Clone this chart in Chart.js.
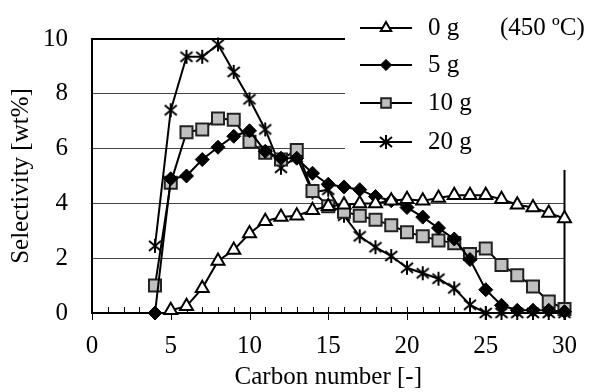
<!DOCTYPE html>
<html>
<head>
<meta charset="utf-8">
<script src="https://cdn.jsdelivr.net/npm/chart.js@4.4.1/dist/chart.umd.min.js"></script>
<style>
  html, body { margin: 0; padding: 0; background: #fff; }
  #wrap { width: 595px; height: 392px; position: relative; }
</style>
</head>
<body>
<div id="wrap"><canvas id="chart"></canvas></div>
<script>
// carbon numbers C4..C30
const carbon = [4, 5, 6, 7, 8, 9, 10, 11, 12, 13, 14, 15, 16, 17, 18, 19, 20, 21, 22, 23, 24, 25, 26, 27, 28, 29, 30];
const seriesNames = ['0 g', '5 g', '10 g', '20 g'];
const sel0g = [null, 0.1, 0.25, 0.9, 1.9, 2.3, 2.9, 3.35, 3.5, 3.55, 3.75, 3.9, 3.95, 4.0, 4.0, 4.1, 4.15, 4.1, 4.2, 4.3, 4.3, 4.3, 4.15, 3.95, 3.85, 3.65, 3.45];
const sel5g = [0, 4.9, 5.0, 5.6, 6.05, 6.45, 6.65, 5.9, 5.65, 5.65, 5.1, 4.7, 4.6, 4.5, 4.25, 4.1, 3.85, 3.5, 3.1, 2.7, 1.95, 0.85, 0.28, 0.1, 0.1, 0.1, 0.05];
const sel10g = [1.0, 4.75, 6.6, 6.7, 7.1, 7.05, 6.25, 5.85, 5.6, 5.95, 4.45, 3.9, 3.7, 3.55, 3.4, 3.2, 2.95, 2.8, 2.65, 2.55, 2.15, 2.35, 1.75, 1.38, 0.97, 0.42, 0.15];
const sel20g = [2.45, 7.4, 9.35, 9.35, 9.8, 8.8, 7.8, 6.7, 5.3, 5.7, 4.4, 4.5, 3.55, 2.8, 2.4, 2.08, 1.65, 1.45, 1.25, 0.9, 0.3, 0, 0, 0, 0, 0, 0];
const xTicks = [0, 5, 10, 15, 20, 25, 30];
const yTicks = [0, 2, 4, 6, 8, 10];
const tempNote = '(450 \u00BAC)';

const serif = "'Liberation Serif', 'Times New Roman', serif";
Chart.defaults.font.family = serif;
Chart.defaults.font.size = 25;
Chart.defaults.color = '#000';

// asterisk marker (X plus vertical bar)
function makeStar() {
    const c = document.createElement('canvas');
    c.width = 16; c.height = 16;
    const g = c.getContext('2d');
    g.strokeStyle = '#000';
    g.lineWidth = 2;
    g.beginPath();
    g.moveTo(8, 1); g.lineTo(8, 15);
    g.moveTo(2, 3); g.lineTo(14, 13);
    g.moveTo(2, 13); g.lineTo(14, 3);
    g.stroke();
    return c;
}
const star = makeStar();

function pts(vals) {
    return carbon.map((c, i) => ({ x: c, y: vals[i] }));
}

const datasets = [
    { label: seriesNames[0], data: pts(sel0g), pointStyle: 'triangle', pointRadius: 7.5,
      pointBackgroundColor: '#fff', pointBorderColor: '#000', pointBorderWidth: 2 },
    { label: seriesNames[1], data: pts(sel5g), pointStyle: 'rectRot', pointRadius: 7,
      pointBackgroundColor: '#000', pointBorderColor: '#000', pointBorderWidth: 1 },
    { label: seriesNames[2], data: pts(sel10g), pointStyle: 'rect', pointRadius: 8.5,
      pointBackgroundColor: '#c0c0c0', pointBorderColor: '#222', pointBorderWidth: 2 },
    { label: seriesNames[3], data: pts(sel20g), pointStyle: star, pointRadius: 8,
      pointBackgroundColor: '#000', pointBorderColor: '#000', pointBorderWidth: 1 }
].map(d => Object.assign(d, { borderColor: '#000', borderWidth: 2, showLine: true, spanGaps: false, clip: false }));

const legendBox = { x: 345, y: 0, w: 250, h: 170 };

const decor = {
    id: 'decor',
    beforeDatasetsDraw(chart) {
        const ctx = chart.ctx;
        const xs = chart.scales.x;
        const ys = chart.scales.y;
        ctx.save();
        ctx.fillStyle = '#fff';
        ctx.fillRect(legendBox.x, legendBox.y, legendBox.w, legendBox.h);
        // right border under the legend
        ctx.strokeStyle = '#000';
        ctx.lineWidth = 2;
        ctx.beginPath();
        ctx.moveTo(xs.right, legendBox.h);
        ctx.lineTo(xs.right, ys.bottom);
        ctx.stroke();
        // x ticks: minor inward, major crossing
        ctx.lineWidth = 1;
        for (let c = 0; c <= 30; c++) {
            const px = Math.round(xs.getPixelForValue(c)) + 0.5;
            ctx.beginPath();
            ctx.moveTo(px, ys.bottom - 6);
            ctx.lineTo(px, c % 5 === 0 ? ys.bottom + 7 : ys.bottom);
            ctx.stroke();
        }
        ctx.restore();
    },
    afterDraw(chart) {
        const ctx = chart.ctx;
        const rows = [28, 65, 103, 142];
        ctx.save();
        ctx.font = '25px ' + serif;
        ctx.textBaseline = 'middle';
        chart.data.datasets.forEach((ds, i) => {
            const y = rows[i];
            ctx.strokeStyle = '#000';
            ctx.lineWidth = 2;
            ctx.beginPath();
            ctx.moveTo(360, y);
            ctx.lineTo(412, y);
            ctx.stroke();
            ctx.fillStyle = ds.pointBackgroundColor;
            ctx.strokeStyle = ds.pointBorderColor;
            ctx.lineWidth = ds.pointBorderWidth;
            Chart.helpers.drawPoint(ctx, { pointStyle: ds.pointStyle, radius: ds.pointRadius * 0.8, rotation: 0, borderWidth: ds.pointBorderWidth }, 386, y);
            ctx.fillStyle = '#000';
            ctx.textAlign = 'left';
            ctx.fillText(ds.label, 428, y);
        });
        ctx.fillText(tempNote, 500, rows[0]);
        ctx.restore();
    }
};

new Chart(document.getElementById('chart'), {
    type: 'scatter',
    data: { datasets: datasets },
    options: {
        responsive: true,
        maintainAspectRatio: false,
        animation: false,
        layout: { padding: { left: 0, right: 25, top: 24, bottom: 0 } },
        plugins: { legend: { display: false }, tooltip: { enabled: false } },
        scales: {
            x: {
                type: 'linear', min: 0, max: 30,
                afterFit: s => { s.height = 79; },
                afterBuildTicks: s => { s.ticks = xTicks.map(v => ({ value: v })); },
                ticks: { padding: 18, maxRotation: 0 },
                grid: { display: false, drawTicks: false },
                border: { color: '#000', width: 2 },
                title: { display: true, text: 'Carbon number [-]', padding: { top: 0, bottom: 0 } }
            },
            y: {
                type: 'linear', min: 0, max: 10,
                afterFit: s => { s.width = 92; },
                afterBuildTicks: s => { s.ticks = yTicks.map(v => ({ value: v })); },
                ticks: { padding: 24 },
                grid: {
                    drawTicks: false,
                    color: c => (c.tick && c.tick.value === 10) ? '#000' : '#444',
                    lineWidth: c => (c.tick && c.tick.value === 10) ? 2 : 1
                },
                border: { color: '#000', width: 2 },
                title: { display: true, text: 'Selectivity [wt%]', padding: { top: 6, bottom: 0 } }
            }
        }
    },
    plugins: [decor]
});
</script>
</body>
</html>
